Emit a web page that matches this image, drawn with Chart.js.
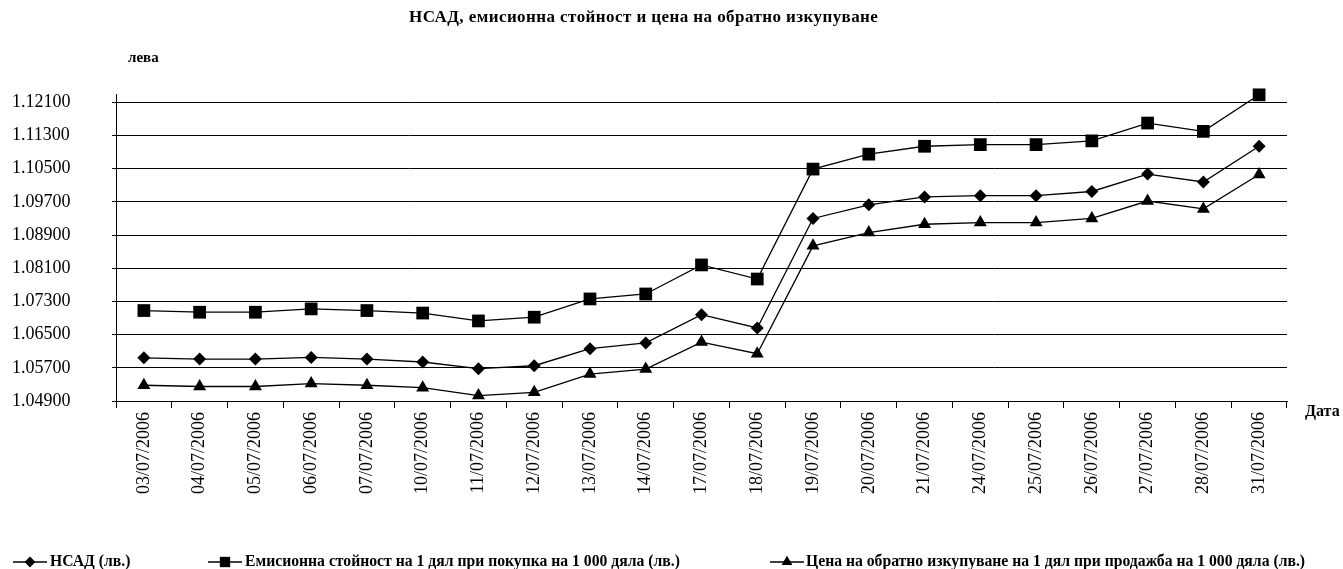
<!DOCTYPE html>
<html>
<head>
<meta charset="utf-8">
<script src="https://cdn.jsdelivr.net/npm/chart.js@4.4.0/dist/chart.umd.min.js"></script>
<style>
  html, body { margin: 0; padding: 0; background: #fff; }
  #wrap { width: 1343px; height: 569px; position: relative; }
</style>
</head>
<body>
<div id="wrap"><canvas id="nav-chart"></canvas></div>
<script>
'use strict';

// --- данни ---
const dates = ['03/07/2006', '04/07/2006', '05/07/2006', '06/07/2006', '07/07/2006',
  '10/07/2006', '11/07/2006', '12/07/2006', '13/07/2006', '14/07/2006',
  '17/07/2006', '18/07/2006', '19/07/2006', '20/07/2006', '21/07/2006',
  '24/07/2006', '25/07/2006', '26/07/2006', '27/07/2006', '28/07/2006', '31/07/2006'];

const navValues = [1.0594, 1.0591, 1.0591, 1.0595, 1.0591, 1.0584, 1.0568, 1.0575, 1.0616, 1.0630,
  1.0698, 1.0666, 1.0930, 1.0963, 1.0982, 1.0985, 1.0985, 1.0995, 1.1037, 1.1018, 1.1104];
const issueValues = [1.0708, 1.0704, 1.0704, 1.0712, 1.0708, 1.0702, 1.0683, 1.0692, 1.0736, 1.0748,
  1.0818, 1.0784, 1.1049, 1.1085, 1.1104, 1.1108, 1.1108, 1.1117, 1.1160, 1.1140, 1.1228];
const redeemValues = [1.0528, 1.0525, 1.0525, 1.0532, 1.0528, 1.0522, 1.0503, 1.0511, 1.0555, 1.0567,
  1.0632, 1.0604, 1.0864, 1.0896, 1.0916, 1.0920, 1.0920, 1.0930, 1.0972, 1.0953, 1.1036];

const yTicks = [1.049, 1.057, 1.065, 1.073, 1.081, 1.089, 1.097, 1.105, 1.113, 1.121];

const seriesNames = [
  'НСАД (лв.)',
  'Емисионна стойност на 1 дял при покупка на 1 000 дяла (лв.)',
  'Цена на обратно изкупуване на 1 дял при продажба на 1 000 дяла (лв.)'
];
const seriesStyles = ['rectRot', 'rect', 'triangle'];

const SERIF = "'Liberation Serif', 'Times New Roman', serif";

// Title, axis captions and legend drawn by hand
const DecorPlugin = {
  id: 'decor',
  afterDraw(chart) {
    const { ctx } = chart;
    ctx.save();
    ctx.fillStyle = '#000';
    ctx.textBaseline = 'middle';

    // title (spread to match width)
    const title = 'НСАД, емисионна стойност и цена на обратно изкупуване';
    ctx.font = `bold 17px ${SERIF}`;
    const tw = ctx.measureText(title).width;
    const spacing = Math.max(0, (469 - tw) / (title.length - 1));
    ctx.letterSpacing = spacing.toFixed(2) + 'px';
    ctx.textAlign = 'left';
    ctx.fillText(title, 409, 18);
    ctx.letterSpacing = '0px';

    ctx.font = `bold 15px ${SERIF}`;
    ctx.fillText('лева', 128, 58);
    ctx.font = `bold 16px ${SERIF}`;
    ctx.fillText('Дата', 1305, 412);

    // legend
    const items = [
      { x0: 13, text: 50 },
      { x0: 208, text: 245 },
      { x0: 770, text: 806 }
    ];
    const ly = 562;
    ctx.font = `bold 15.7px ${SERIF}`;
    items.forEach((it, i) => {
      ctx.strokeStyle = '#000';
      ctx.lineWidth = 1.3;
      ctx.beginPath();
      ctx.moveTo(it.x0, ly);
      ctx.lineTo(it.x0 + 34, ly);
      ctx.stroke();
      const ds = chart.data.datasets[i];
      Chart.helpers.drawPoint(ctx, {
        pointStyle: seriesStyles[i],
        radius: ds.pointRadius * 0.8,
        rotation: 0,
        borderWidth: 0
      }, it.x0 + 17, ly);
      ctx.fillStyle = '#000';
      ctx.fill();
      ctx.fillText(seriesNames[i], it.text, ly);
    });
    ctx.restore();
  }
};

function makeDataset(label, data, style, radius) {
  return {
    label,
    data,
    borderColor: '#000',
    borderWidth: 1.3,
    backgroundColor: '#000',
    pointStyle: style,
    pointRadius: radius,
    pointBackgroundColor: '#000',
    pointBorderColor: '#000',
    pointBorderWidth: 0,
    tension: 0,
    fill: false,
    clip: false
  };
}

function buildChart() {
  const ctx = document.getElementById('nav-chart').getContext('2d');
  return new Chart(ctx, {
    type: 'line',
    data: {
      labels: dates,
      datasets: [
        makeDataset(seriesNames[0], navValues, seriesStyles[0], 6.5),
        makeDataset(seriesNames[1], issueValues, seriesStyles[1], 9),
        makeDataset(seriesNames[2], redeemValues, seriesStyles[2], 7.5)
      ]
    },
    options: {
      responsive: true,
      maintainAspectRatio: false,
      animation: false,
      layout: { padding: { left: 12, top: 94, right: 56, bottom: 0 } },
      plugins: {
        legend: { display: false },
        title: { display: false },
        tooltip: { enabled: false }
      },
      scales: {
        x: {
          type: 'category',
          offset: true,
          afterFit(scale) { scale.height = 168; },
          grid: {
            offset: true,
            drawOnChartArea: false,
            drawTicks: true,
            tickLength: 7,
            color: '#000',
            lineWidth: 1
          },
          border: { display: true, color: '#000', width: 1 },
          ticks: {
            autoSkip: false,
            minRotation: 90,
            maxRotation: 90,
            padding: 4,
            color: '#000',
            font: { family: SERIF, size: 18 }
          }
        },
        y: {
          min: 1.049,
          max: 1.123,
          afterFit(scale) { scale.width = 104; },
          afterBuildTicks(scale) {
            scale.ticks = yTicks.map((v) => ({ value: v }));
          },
          grid: {
            color: '#000',
            lineWidth: 1,
            drawTicks: true,
            tickLength: 4
          },
          border: { display: true, color: '#000', width: 1 },
          ticks: {
            crossAlign: 'far',
            color: '#000',
            font: { family: SERIF, size: 18 },
            callback: (v) => Number(v).toFixed(5)
          }
        }
      }
    },
    plugins: [DecorPlugin]
  });
}

window.addEventListener('DOMContentLoaded', () => {
  buildChart();
});
</script>
</body>
</html>
